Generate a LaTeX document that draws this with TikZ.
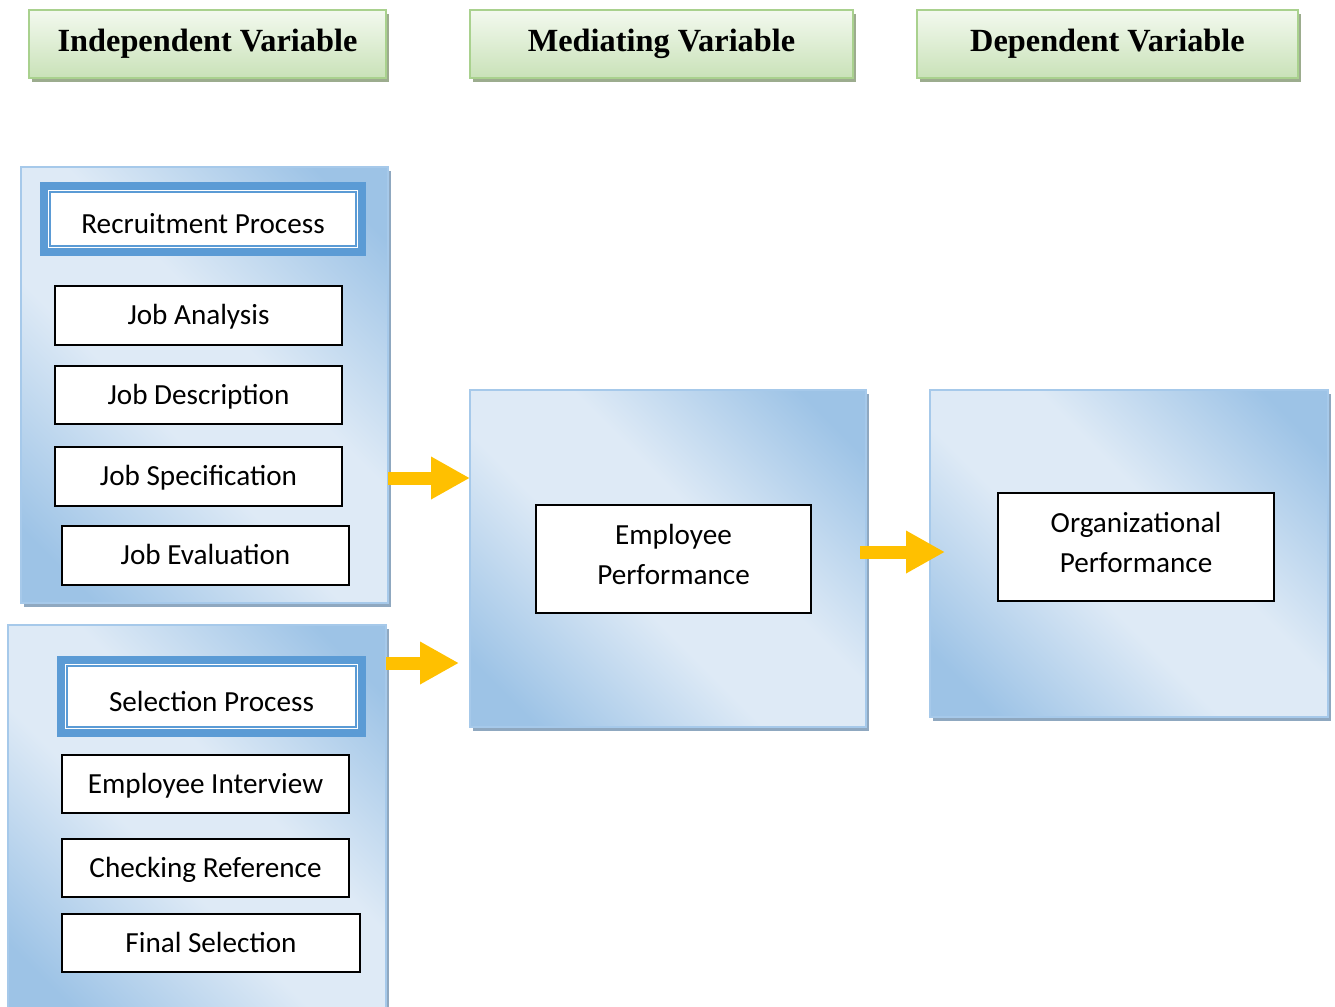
\documentclass[tikz,border=0pt]{standalone}
\usepackage{fontspec}
\setmainfont{Carlito}
\newfontfamily\headfont{Liberation Serif}
\usepackage{tikz}
\usetikzlibrary{arrows.meta,shadows}

\definecolor{paneldark}{HTML}{9DC3E6}
\definecolor{panellight}{HTML}{DEEAF6}
\definecolor{panelline}{HTML}{A6C9EA}
\definecolor{panelshadow}{HTML}{8FA8C0}
\definecolor{hdrtop}{HTML}{F3F9EF}
\definecolor{hdrbot}{HTML}{C9E2B8}
\definecolor{hdrline}{HTML}{A9D18E}
\definecolor{hdrshadow}{HTML}{9CAC8E}
\definecolor{frameblue}{HTML}{5B9BD5}
\definecolor{arrowgold}{HTML}{FFC000}

\pgfdeclareverticalshading{panelshade}{100bp}{color(0bp)=(paneldark); color(21bp)=(paneldark);
	color(43bp)=(panellight); color(57bp)=(panellight); color(79bp)=(paneldark); color(100bp)=(paneldark)}

\begin{document}
\begin{tikzpicture}[x=0.1mm,y=-0.1mm,
	hdr/.style={draw=hdrline, line width=0.6pt, top color=hdrtop, bottom color=hdrbot,
		drop shadow={shadow xshift=0.3mm, shadow yshift=-0.4mm, fill=hdrshadow, opacity=1},
		minimum height=6.8mm, inner sep=0pt, font=\headfont\bfseries\fontsize{9.2}{11}\selectfont},
	panel/.style={draw=panelline, line width=0.6pt, shading=panelshade, shading angle=-45,
		inner sep=0pt, outer sep=0pt,
		drop shadow={shadow xshift=0.3mm, shadow yshift=-0.4mm, fill=panelshadow, opacity=1}},
	item/.style={draw, line width=0.6pt, fill=white, minimum width=28.7mm, minimum height=5.85mm,
		inner sep=0pt, font=\fontsize{8.3}{11.4}\selectfont, align=center},
	line item/.style={item, text height=2.1mm, text depth=0.3mm},
	big item/.style={item, minimum height=10.8mm, text depth=1mm},
	bframe/.style={fill=frameblue, inner sep=0pt},
	btitle/.style={fill=white, draw=frameblue, line width=0.35pt, inner sep=0pt,
		text height=2.9mm, text depth=0pt,
		preaction={draw=white, line width=1.2pt}, font=\fontsize{8.3}{10}\selectfont},
	yarrow/.style={arrowgold, line width=1.3mm, -{Triangle[length=3.9mm, width=4mm]}}
]
\useasboundingbox (0,0) rectangle (1335,1006);

\node[hdr, minimum width=35.7mm] (hind) at (207.5,44) {Independent Variable};
\node[hdr, minimum width=38.3mm] (hmed) at (661.5,44) {Mediating Variable};
\node[hdr, minimum width=38.1mm] (hdep) at (1107.5,44) {Dependent Variable};

\node[panel, minimum width=36.7mm, minimum height=43.6mm] (recpanel) at (204.5,385) {};
\node[panel, minimum width=37.8mm, minimum height=38.9mm] (selpanel) at (197,819.5) {};
\node[panel, minimum width=39.6mm, minimum height=33.7mm] (medpanel) at (668,558.5) {};
\node[panel, minimum width=39.8mm, minimum height=32.7mm] (deppanel) at (1129,553.5) {};

\node[bframe, minimum width=32.6mm, minimum height=7.4mm] (recframe) at (203,219) {};
\node[btitle, minimum width=30.6mm, minimum height=5.4mm] (rec) at (recframe) {Recruitment Process};
\node[line item] (jana) at (198.5,315.5) {Job Analysis};
\node[line item] (jdes) at (198.5,395) {Job Description};
\node[line item] (jspe) at (198.5,476.5) {Job Specification};
\node[line item] (jeva) at (205.5,555.5) {Job Evaluation};

\node[bframe, minimum width=30.9mm, minimum height=8.1mm] (selframe) at (211.5,696.5) {};
\node[btitle, minimum width=28.9mm, minimum height=6.1mm] (sel) at (selframe) {Selection Process};
\node[line item] (eint) at (205.5,784) {Employee Interview};
\node[line item] (cref) at (205.5,868) {Checking Reference};
\node[line item, minimum width=29.8mm] (fsel) at (211,943) {Final Selection};

\node[big item, minimum width=27.5mm] (emp) at (673.5,559) {Employee\\Performance};
\node[big item, minimum width=27.6mm] (org) at (1136,547) {Organizational\\Performance};

\coordinate (t2) at (459,663);
\coordinate (s3) at (860,552);
\coordinate (t3) at (945,552);
\draw[yarrow] (recpanel.east |- 0,478) -- (medpanel.west |- 0,478);
\draw[yarrow] (selpanel.east |- t2) -- (t2);
\draw[yarrow] (s3) -- (t3);
\end{tikzpicture}
\end{document}
